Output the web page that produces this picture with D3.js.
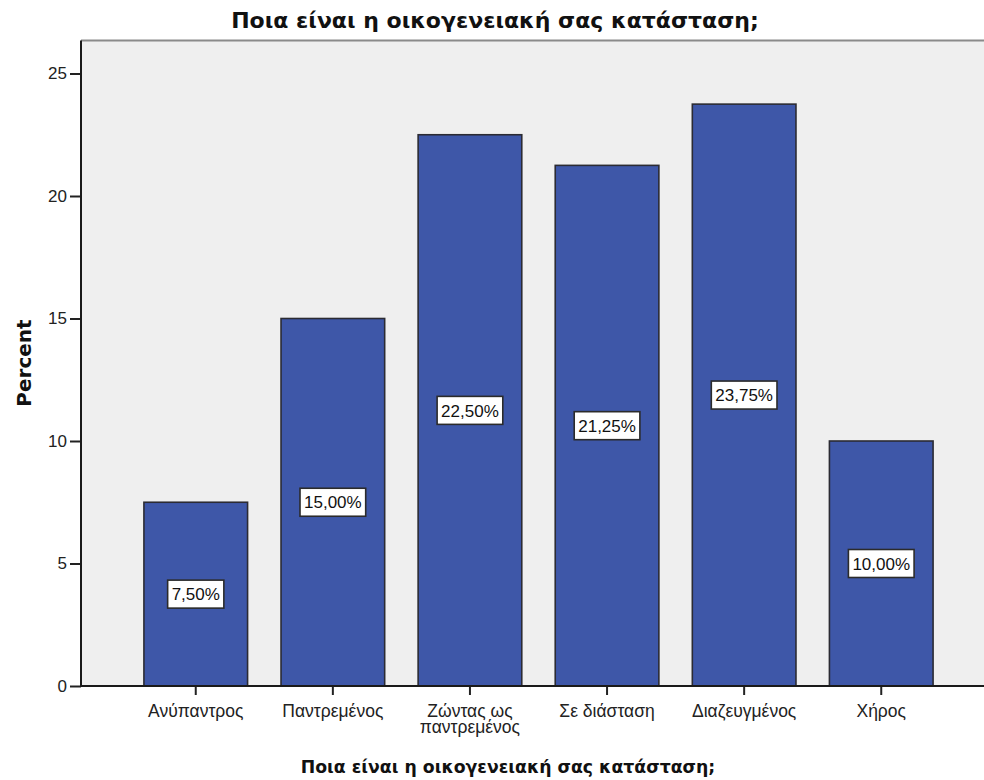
<!DOCTYPE html>
<html>
<head>
<meta charset="utf-8">
<script src="https://cdn.jsdelivr.net/npm/d3@7"></script>
<style>
  html, body { margin: 0; padding: 0; background: #ffffff; }
  svg { display: block; }
</style>
</head>
<body>
<svg id="chart" width="984" height="780"></svg>
<script>
// Marital status distribution (percent of respondents)
const categories = [
  "Ανύπαντρος",
  "Παντρεμένος",
  "Ζώντας ως παντρεμένος",
  "Σε διάσταση",
  "Διαζευγμένος",
  "Χήρος"
];
const percentValues = [7.5, 15.0, 22.5, 21.25, 23.75, 10.0];
const yTickValues = [0, 5, 10, 15, 20, 25];
const chartTitle = "Ποια είναι η οικογενειακή σας κατάσταση;";
const xAxisTitle = "Ποια είναι η οικογενειακή σας κατάσταση;";
const yAxisTitle = "Percent";

// Category labels that wrap onto two lines
const categoryLines = {
  "Ζώντας ως παντρεμένος": ["Ζώντας ως", "παντρεμένος"]
};

const svg = d3.select("#chart");

const frame = { left: 81, top: 40.5, right: 996, bottom: 686 };

const x = d3.scaleBand()
  .domain(categories)
  .range([frame.left, frame.right])
  .paddingInner(0.244)
  .paddingOuter(0.459);

const y = d3.scaleLinear()
  .domain([0, 25])
  .range([frame.bottom, 73.5]);

const fmt = v => d3.format(".2f")(v).replace(".", ",") + "%";

// Plot background
svg.append("rect")
  .attr("x", frame.left)
  .attr("y", frame.top)
  .attr("width", frame.right - frame.left)
  .attr("height", frame.bottom - frame.top)
  .attr("fill", "#efefef");

// Top frame line
svg.append("line")
  .attr("x1", frame.left).attr("x2", frame.right)
  .attr("y1", frame.top).attr("y2", frame.top)
  .attr("stroke", "#8a8a8a")
  .attr("stroke-width", 2);

// Bars
svg.append("g")
  .selectAll("rect")
  .data(percentValues)
  .join("rect")
  .attr("x", (d, i) => x(categories[i]))
  .attr("y", d => y(d))
  .attr("width", x.bandwidth())
  .attr("height", d => y(0) - y(d))
  .attr("fill", "#3e57a8")
  .attr("stroke", "#2b2b33")
  .attr("stroke-width", 1.6);

// Value labels inside the bars
const labels = svg.append("g")
  .selectAll("g")
  .data(percentValues)
  .join("g")
  .attr("transform", (d, i) => `translate(${x(categories[i]) + x.bandwidth() / 2},${y(d / 2)})`);

labels.append("text")
  .attr("text-anchor", "middle")
  .attr("dy", "0.36em")
  .attr("font-family", "Liberation Sans, Arial, sans-serif")
  .attr("font-size", 17)
  .attr("fill", "#111")
  .text(d => fmt(d));

labels.each(function () {
  const g = d3.select(this);
  const bb = g.select("text").node().getBBox();
  g.insert("rect", "text")
    .attr("x", bb.x - 4)
    .attr("y", -14)
    .attr("width", bb.width + 8)
    .attr("height", 28)
    .attr("fill", "#ffffff")
    .attr("stroke", "#2b2b2b")
    .attr("stroke-width", 1.6);
});

// Y axis
const yAxis = svg.append("g")
  .attr("transform", `translate(${frame.left},0)`)
  .call(d3.axisLeft(y).tickValues(yTickValues).tickSize(11).tickPadding(3));
yAxis.select(".domain").remove();
yAxis.selectAll(".tick line").attr("stroke", "#222").attr("stroke-width", 2);
yAxis.selectAll(".tick text")
  .attr("font-family", "Liberation Sans, Arial, sans-serif")
  .attr("font-size", 17)
  .attr("fill", "#222");
svg.append("line")
  .attr("x1", frame.left).attr("x2", frame.left)
  .attr("y1", frame.top).attr("y2", frame.bottom + 1)
  .attr("stroke", "#1a1a1a")
  .attr("stroke-width", 2);

// X axis
const xAxis = svg.append("g")
  .attr("transform", `translate(0,${frame.bottom})`)
  .call(d3.axisBottom(x).tickSize(9).tickFormat(""));
xAxis.select(".domain").remove();
xAxis.selectAll(".tick line").attr("stroke", "#222").attr("stroke-width", 2);
svg.append("line")
  .attr("x1", frame.left - 1).attr("x2", frame.right)
  .attr("y1", frame.bottom).attr("y2", frame.bottom)
  .attr("stroke", "#1a1a1a")
  .attr("stroke-width", 2);

// Category labels
svg.append("g")
  .selectAll("text")
  .data(categories)
  .join("text")
  .attr("x", d => x(d) + x.bandwidth() / 2)
  .attr("y", frame.bottom + 31)
  .attr("text-anchor", "middle")
  .attr("font-family", "Liberation Sans, Arial, sans-serif")
  .attr("font-size", 17.5)
  .attr("fill", "#222")
  .each(function (d) {
    const lines = categoryLines[d] || [d];
    d3.select(this).selectAll("tspan")
      .data(lines)
      .join("tspan")
      .attr("x", x(d) + x.bandwidth() / 2)
      .attr("dy", (l, i) => i === 0 ? 0 : 15.5)
      .text(l => l);
  });

// Chart title
svg.append("text")
  .attr("x", 495)
  .attr("y", 28)
  .attr("text-anchor", "middle")
  .attr("font-family", "DejaVu Sans, Verdana, sans-serif")
  .attr("font-weight", "bold")
  .attr("font-size", 22)
  .attr("fill", "#111")
  .text(chartTitle);

// X axis title
svg.append("text")
  .attr("x", 508)
  .attr("y", 773)
  .attr("text-anchor", "middle")
  .attr("font-family", "DejaVu Sans, Verdana, sans-serif")
  .attr("font-weight", "bold")
  .attr("font-size", 17.3)
  .attr("fill", "#111")
  .text(xAxisTitle);

// Y axis title
svg.append("text")
  .attr("transform", "translate(31,363) rotate(-90)")
  .attr("text-anchor", "middle")
  .attr("font-family", "DejaVu Sans, Verdana, sans-serif")
  .attr("font-weight", "bold")
  .attr("font-size", 20)
  .attr("fill", "#111")
  .text(yAxisTitle);
</script>
</body>
</html>
